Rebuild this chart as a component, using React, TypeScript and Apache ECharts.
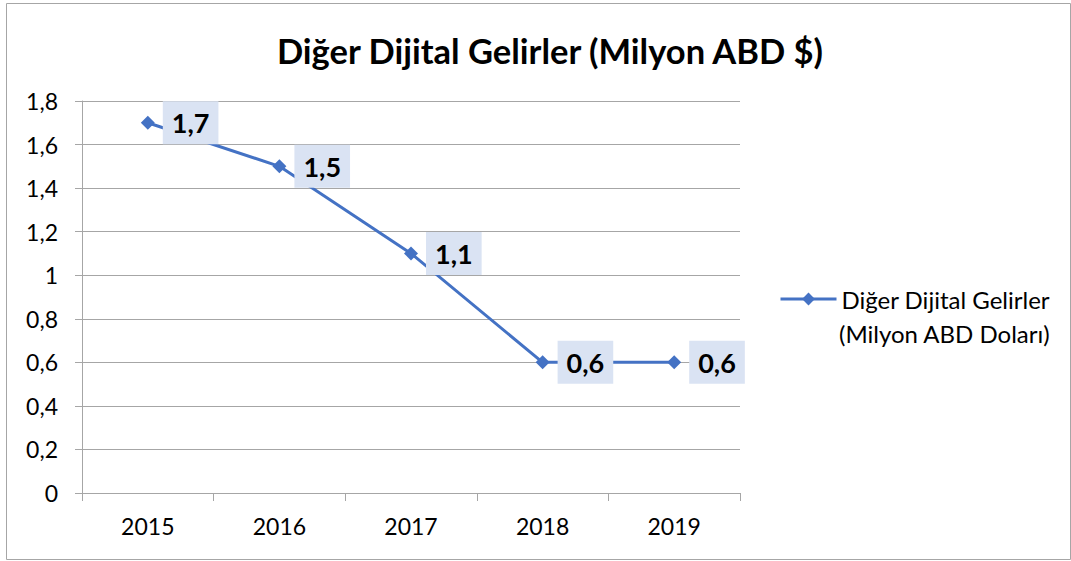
import React, { useEffect, useRef } from "react";
import * as echarts from "echarts";

const categories = ["2015", "2016", "2017", "2018", "2019"];
const values = [1.7, 1.5, 1.1, 0.6, 0.6];
const seriesName = "Diğer Dijital Gelirler";
const seriesNameLine2 = "(Milyon ABD Doları)";
const titleText = "Diğer Dijital Gelirler (Milyon ABD $)";

const fmt = (v: number) => String(Math.round(v * 10) / 10).replace(".", ",");

export default function App() {
  const ref = useRef<HTMLDivElement>(null);
  useEffect(() => {
    document.body.style.margin = "0";
    const chart = echarts.init(ref.current!, null, { renderer: "svg" });
    const font = "Lato, 'Open Sans', sans-serif";
    chart.setOption({
      animation: false,
      backgroundColor: "#ffffff",
      textStyle: { fontFamily: font },
      title: {
        text: titleText,
        left: 545,
        textAlign: "center",
        top: 28,
        textStyle: { fontSize: 34.5, fontWeight: "bold", color: "#000", fontFamily: font },
      },
      legend: {
        left: 774,
        top: 282,
        itemWidth: 56,
        itemHeight: 16,
        itemGap: 6,
        textStyle: { fontSize: 24, color: "#000", fontFamily: font },
        lineStyle: { width: 3 },
        data: [{ name: seriesName }],
      },
      graphic: [
        {
          type: "rect",
          shape: { x: 6.5, y: 3.5, width: 1064, height: 556 },
          style: { fill: "none", stroke: "#a6a6a6", lineWidth: 1 },
          silent: true,
        },
        {
          type: "text",
          left: 839,
          top: 321,
          style: { text: seriesNameLine2, fontSize: 24, fill: "#000", fontFamily: font },
        },
      ],
      grid: { left: 82, right: 331, top: 101, bottom: 68 },
      xAxis: {
        type: "category",
        data: categories,
        boundaryGap: true,
        axisLine: { lineStyle: { color: "#a6a6a6", width: 1 } },
        axisTick: { show: true, length: 8, lineStyle: { color: "#a6a6a6" } },
        axisLabel: { fontSize: 23, color: "#000", margin: 21, fontFamily: font },
      },
      yAxis: {
        type: "value",
        min: 0,
        max: 1.8,
        interval: 0.2,
        axisLine: { show: true, lineStyle: { color: "#a6a6a6", width: 1 } },
        axisTick: { show: true, length: 7, lineStyle: { color: "#a6a6a6" } },
        axisLabel: { fontSize: 23, color: "#000", margin: 24, formatter: (v: number) => fmt(v), fontFamily: font },
        splitLine: { lineStyle: { color: "#a6a6a6", width: 1 } },
      },
      series: [
        {
          name: seriesName,
          type: "line",
          data: values,
          color: "#4472c4",
          lineStyle: { width: 3, color: "#4472c4" },
          symbol: "diamond",
          symbolSize: 14,
          itemStyle: { color: "#4472c4" },
          label: {
            show: true,
            position: "right",
            distance: 8,
            formatter: (p: any) => fmt(p.value),
            fontSize: 27,
            fontWeight: "bold",
            color: "#000",
            fontFamily: font,
            backgroundColor: "#dae3f3",
            padding: [8, 9, 8, 9],
          },
        },
      ],
    });
    return () => chart.dispose();
  }, []);
  return <div ref={ref} style={{ position: "absolute", left: 0, top: 0, width: 1071, height: 561 }} />;
}
